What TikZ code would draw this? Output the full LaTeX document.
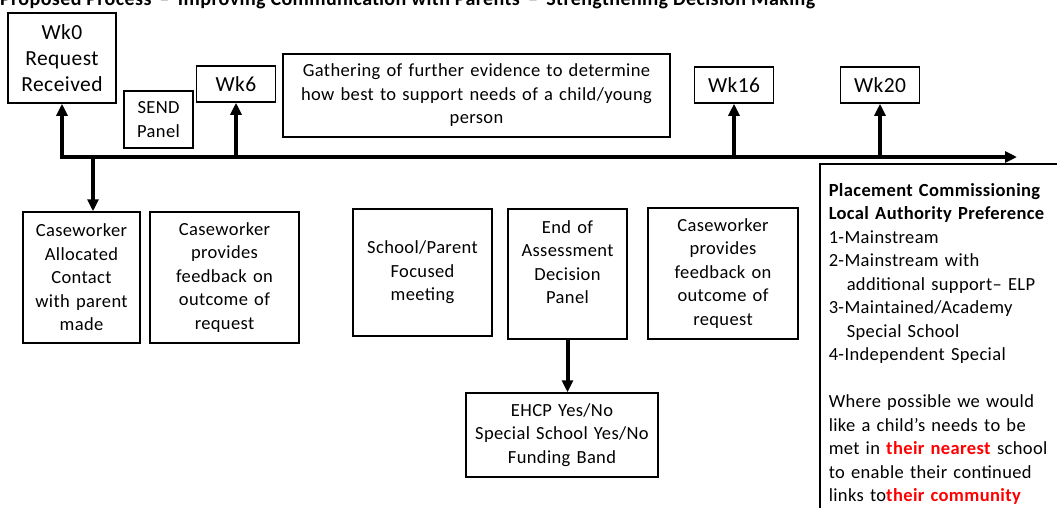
\documentclass[tikz,border=0pt]{standalone}
\usepackage{fontspec}
\setmainfont{Carlito}[LetterSpace=2]
\usetikzlibrary{arrows.meta}
\newcommand{\boxfont}{\fontsize{18.5}{23.5}\selectfont}
\newcommand{\weekfont}{\fontsize{21.5}{26}\selectfont}
\tikzset{
  box/.style={draw, line width=1.5pt, align=center, inner sep=0pt, font=\boxfont},
  wkbox/.style={box, font=\weekfont},
  flow/.style={line width=4pt, -{Triangle[length=12pt,width=11pt]}},
}
\begin{document}
\begin{tikzpicture}[x=1pt,y=1pt,yscale=-1,xscale=1]
\useasboundingbox (0,0) rectangle (1057,507);
\clip (0,0) rectangle (1057,507);

%Text Node: heading
\node [anchor=base west, inner sep=0pt, font=\fontsize{20}{24}\selectfont\bfseries] (title) at (0,5.5) {Proposed Process \,–\, Improving Communication with Parents \,–\, Strengthening Decision Making};

%Shape: Rectangle - week boxes above the line
\node [wkbox, text width=108, minimum height=90] (wk0) at (62,58) {Wk0\\Request\\Received};
\node [box, text width=69, minimum height=57] (send) at (158.5,119.5) {SEND\\Panel};
\node [wkbox, text width=79, minimum height=36] (wk6) at (236,84) {Wk6};
\node [box, text width=387, minimum height=83] (gather) at (476.5,95.5) {Gathering of further evidence to determine\\how best to support needs of a child/young\\person};
\node [wkbox, text width=79, minimum height=36] (wk16) at (734,85) {Wk16};
\node [wkbox, text width=79, minimum height=36] (wk20) at (880,85) {Wk20};

%Shape: Rectangle - boxes below the line
\node [box, text width=117, minimum height=131] (alloc) at (81.5,277.5) {Caseworker\\Allocated\\Contact\\with parent\\made};
\node [box, text width=149, minimum height=131] (feedA) at (224.5,277.5) {Caseworker\\provides\\feedback on\\outcome of\\request};
\node [box, text width=139, minimum height=127] (meet) at (422.5,272.5) {School/Parent\\Focused\\meeting};
\node [box, text width=119, minimum height=130] (endpanel) at (567.5,274) {End of\\Assessment\\Decision\\Panel\\\mbox{}};
\node [box, text width=150, minimum height=131] (feedB) at (723,273.5) {Caseworker\\provides\\feedback on\\outcome of\\request};
\node [box, text width=192, minimum height=84] (ehcp) at (562,435) {EHCP Yes/No\\Special School Yes/No\\Funding Band};

%Shape: Rectangle - placement panel
\node [draw, line width=1.5pt, anchor=north west, align=left, text width=240, minimum height=360, inner sep=9pt, font=\boxfont] (place) at (819,163) {\textbf{Placement Commissioning}\\
\textbf{Local Authority Preference}\\
1-Mainstream\\
2-Mainstream with\\
\hspace*{18pt}additional support– ELP\\
3-Maintained/Academy\\
\hspace*{18pt}Special School\\
4-Independent Special\\[23.5pt]
Where possible we would\\
like a child’s needs to be\\
met in \textcolor{red}{\textbf{their nearest}} school\\
to enable their continued\\
links to\textcolor{red}{\textbf{their community}}};

%Straight Lines - time line
\coordinate (tlend) at (1017,157);
\coordinate (drop) at (93,157);
\draw [flow, {Triangle[length=12pt,width=11pt]}-{Triangle[length=12pt,width=11pt]}] (wk0.south) |- (tlend);
\draw [flow] (wk6.south |- tlend) -- (wk6.south);
\draw [flow] (wk16.south |- tlend) -- (wk16.south);
\draw [flow] (wk20.south |- tlend) -- (wk20.south);
\draw [flow] (drop) -- (drop |- alloc.north);
\draw [flow] (endpanel.south) -- (endpanel.south |- ehcp.north);

\end{tikzpicture}
\end{document}
